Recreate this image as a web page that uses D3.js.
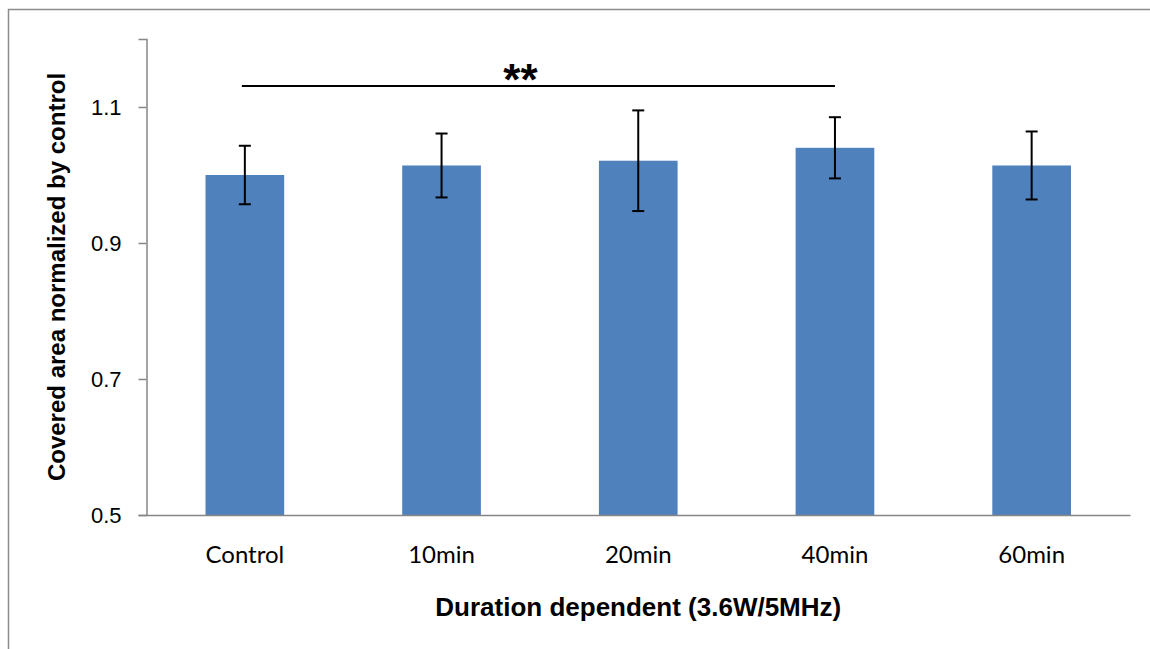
<!DOCTYPE html>
<html>
<head>
<meta charset="utf-8">
<script src="https://cdn.jsdelivr.net/npm/d3@7"></script>
<style>
  body { margin: 0; background: #fff; }
  svg { display: block; }
</style>
</head>
<body>
<div id="chart"></div>
<script>
// data
const categories = ["Control", "10min", "20min", "40min", "60min"];
const means = [1.000, 1.014, 1.021, 1.040, 1.014];
const errors = [0.043, 0.047, 0.074, 0.045, 0.050];
const yTicks = [0.5, 0.7, 0.9, 1.1];
const sigPair = ["Control", "40min"];
const sigLabel = "**";

const W = 1150, H = 649;
const margin = {top: 39, right: 20, bottom: 134, left: 146.5};

const svg = d3.select("#chart").append("svg")
    .attr("width", W)
    .attr("height", H);

// outer frame (right and bottom edges fall outside the picture)
svg.append("rect")
    .attr("x", 8.5).attr("y", 9.5)
    .attr("width", 1160).attr("height", 660)
    .attr("fill", "none")
    .attr("stroke", "#8c8c8c")
    .attr("stroke-width", 1.5);

const x = d3.scaleBand()
    .domain(categories)
    .range([margin.left, W - margin.right])
    .paddingInner(0.6)
    .paddingOuter(0.3);

const y = d3.scaleLinear()
    .domain([0.5, 1.2])
    .range([H - margin.bottom, margin.top]);

// bars
svg.selectAll(".bar")
  .data(categories)
  .enter().append("rect")
    .attr("class", "bar")
    .attr("x", d => x(d))
    .attr("y", (d, i) => y(means[i]))
    .attr("width", x.bandwidth())
    .attr("height", (d, i) => y(0.5) - y(means[i]))
    .attr("fill", "#4f81bd");

// y axis
const yAxis = svg.append("g")
    .attr("transform", `translate(${margin.left},0)`)
    .call(d3.axisLeft(y).tickValues(yTicks).tickFormat(d3.format(".1f")).tickSizeOuter(0).tickSize(8).tickPadding(17));
yAxis.select(".domain").attr("stroke", "#868686").attr("stroke-width", 1.5);
yAxis.selectAll(".tick line").attr("stroke", "#868686").attr("stroke-width", 1.5);
yAxis.selectAll(".tick text")
    .attr("fill", "#000")
    .style("font-family", "'Liberation Sans', Arial, sans-serif")
    .style("font-size", "22px");

// x axis
const xAxis = svg.append("g")
    .attr("transform", `translate(0,${y(0.5)})`)
    .call(d3.axisBottom(x).tickSize(0).tickSizeOuter(0).tickPadding(31));
xAxis.select(".domain").attr("stroke", "#868686").attr("stroke-width", 1.5);
xAxis.selectAll(".tick text")
    .attr("fill", "#000")
    .style("font-family", "Lato, 'Open Sans', sans-serif")
    .style("font-size", "24px");

// error bars
const cap = 6;
const eb = svg.append("g").attr("stroke", "#000").attr("stroke-width", 2);
categories.forEach((c, i) => {
  const cx = x(c) + x.bandwidth() / 2;
  const hi = y(means[i] + errors[i]);
  const lo = y(means[i] - errors[i]);
  eb.append("line").attr("x1", cx).attr("x2", cx).attr("y1", hi).attr("y2", lo);
  eb.append("line").attr("x1", cx - cap).attr("x2", cx + cap).attr("y1", hi).attr("y2", hi);
  eb.append("line").attr("x1", cx - cap).attr("x2", cx + cap).attr("y1", lo).attr("y2", lo);
});

// significance bracket
const sx1 = x(sigPair[0]) + x.bandwidth() / 2 - 3;
const sx2 = x(sigPair[1]) + x.bandwidth() / 2;
svg.append("line")
    .attr("x1", sx1).attr("x2", sx2)
    .attr("y1", 86).attr("y2", 86)
    .attr("stroke", "#000").attr("stroke-width", 2);
svg.append("text")
    .attr("x", (sx1 + sx2) / 2 - 18)
    .attr("y", 95)
    .attr("text-anchor", "middle")
    .style("font-family", "'Liberation Sans', Arial, sans-serif")
    .style("font-weight", "bold")
    .style("font-size", "44px")
    .text(sigLabel);

// axis titles
svg.append("text")
    .attr("x", (margin.left + W - margin.right) / 2)
    .attr("y", 616)
    .attr("text-anchor", "middle")
    .style("font-family", "'Liberation Sans', Arial, sans-serif")
    .style("font-weight", "bold")
    .style("font-size", "26px")
    .text("Duration dependent (3.6W/5MHz)");

svg.append("text")
    .attr("transform", `translate(65,${(y(0.5) + y(1.2)) / 2}) rotate(-90)`)
    .attr("text-anchor", "middle")
    .style("font-family", "'Liberation Sans', Arial, sans-serif")
    .style("font-weight", "bold")
    .style("font-size", "24px")
    .text("Covered area normalized by control");
</script>
</body>
</html>
